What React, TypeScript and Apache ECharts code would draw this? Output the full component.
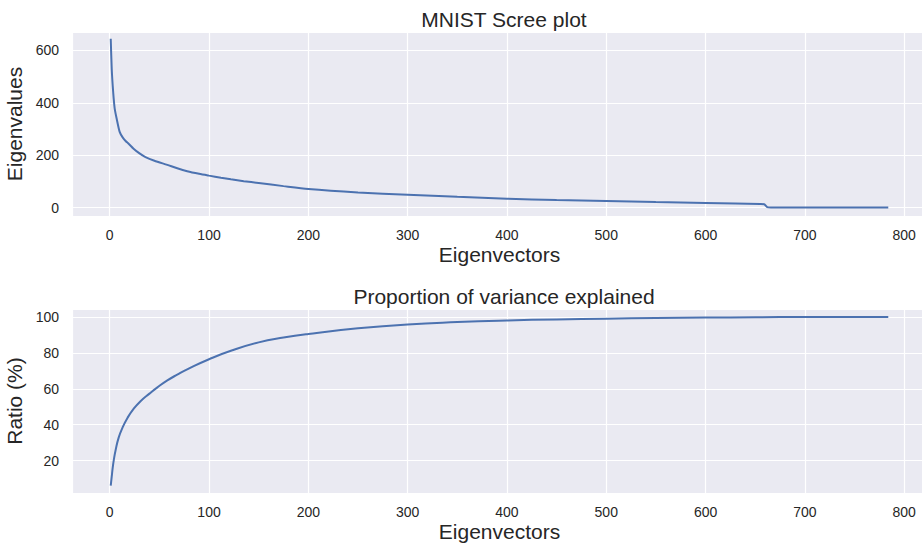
import React, { useEffect, useRef } from "react";
import * as echarts from "echarts";

// Eigenvalue (scree) curve
const eigIndex = [1, 2, 3, 4, 5, 7, 10, 13, 16, 19, 24, 30, 36, 45, 58, 68, 78, 90, 100, 112, 122, 135, 150, 175, 200, 250, 300, 350, 400, 450, 500, 550, 600, 630, 655, 659, 662, 666, 700, 750, 784];
const eigValues = [644, 530, 465, 415, 378, 339, 289, 268, 254, 244, 225, 207, 193, 179, 163, 150, 139, 129, 122, 114, 108, 101, 94, 82, 71, 58, 49, 41, 34, 29, 25, 21, 18, 16, 14, 13, 2, 0.5, 0.3, 0.2, 0.2];

// Cumulative proportion of variance explained (%)
const ratioIndex = [1, 2, 3, 4, 6, 9, 13, 18, 24, 31, 40, 48, 58, 68, 80, 100, 122, 150, 175, 200, 250, 300, 350, 400, 450, 500, 550, 600, 650, 700, 784];
const ratioValues = [6.0, 11, 16, 20, 26, 32.8, 38.5, 43.9, 48.8, 53.1, 57.3, 60.8, 64.7, 67.9, 71.4, 76.5, 81.2, 85.9, 88.6, 90.6, 93.7, 95.9, 97.2, 98.1, 98.7, 99.1, 99.45, 99.7, 99.9, 100, 100];

const titles = ["MNIST Scree plot", "Proportion of variance explained"];
const xName = "Eigenvectors";
const yNames = ["Eigenvalues", "Ratio (%)"];

const FONT = "Liberation Sans, Arial, sans-serif";
const TXT = "#262626";

export default function App() {
  const ref = useRef<HTMLDivElement>(null);
  useEffect(() => {
    if (!ref.current) return;
    const chart = echarts.init(ref.current, undefined, { renderer: "svg" });
    const eigData = eigIndex.map((x, i) => [x, eigValues[i]]);
    const ratioData = ratioIndex.map((x, i) => [x, ratioValues[i]]);

    const xAxisBase = (gi: number) => ({
      type: "value" as const,
      gridIndex: gi,
      min: -38,
      max: 823,
      minInterval: 100,
      maxInterval: 100,
      splitNumber: 9,
      name: xName,
      nameLocation: "middle" as const,
      nameGap: 28,
      nameTextStyle: { fontSize: 21, color: TXT, fontFamily: FONT },
      axisLine: { show: false },
      axisTick: { show: false },
      axisLabel: {
        showMinLabel: false,
        showMaxLabel: false,
        fontSize: 14,
        color: TXT,
        fontFamily: FONT,
        margin: 12,
      },
      splitLine: { show: true, lineStyle: { color: "#ffffff", width: 1.2 } },
    });

    const yAxisBase = (gi: number, min: number, max: number, step: number, name: string) => ({
      type: "value" as const,
      gridIndex: gi,
      min,
      max,
      minInterval: step,
      maxInterval: step,
      splitNumber: 5,
      name,
      nameLocation: "middle" as const,
      nameGap: 43,
      nameTextStyle: { fontSize: 21, color: TXT, fontFamily: FONT },
      axisLine: { show: false },
      axisTick: { show: false },
      axisLabel: {
        showMinLabel: false,
        showMaxLabel: false,
        fontSize: 14,
        color: TXT,
        fontFamily: FONT,
        margin: 13,
      },
      splitLine: { show: true, lineStyle: { color: "#ffffff", width: 1.2 } },
    });

    const gridBase = {
      left: 72,
      width: 855,
      height: 184,
      show: true,
      backgroundColor: "#EAEAF2",
      borderWidth: 0,
      containLabel: false,
      outerBoundsMode: "none",
    };

    chart.setOption({
      animation: false,
      backgroundColor: "#ffffff",
      title: [
        {
          text: titles[0],
          left: 499,
          top: 4,
          textAlign: "center",
          textStyle: { fontSize: 21, fontWeight: "normal", color: TXT, fontFamily: FONT },
        },
        {
          text: titles[1],
          left: 499,
          top: 281,
          textAlign: "center",
          textStyle: { fontSize: 21, fontWeight: "normal", color: TXT, fontFamily: FONT },
        },
      ],
      grid: [
        { ...gridBase, top: 32 },
        { ...gridBase, top: 309 },
      ],
      xAxis: [xAxisBase(0), xAxisBase(1)],
      yAxis: [
        yAxisBase(0, -32, 670, 200, yNames[0]),
        yAxisBase(1, 1.9, 104.5, 20, yNames[1]),
      ],
      series: [
        {
          type: "line",
          xAxisIndex: 0,
          yAxisIndex: 0,
          data: eigData,
          showSymbol: false,
          smooth: 0.25,
          lineStyle: { color: "#4C72B0", width: 2 },
        },
        {
          type: "line",
          xAxisIndex: 1,
          yAxisIndex: 1,
          data: ratioData,
          showSymbol: false,
          smooth: 0.5,
          lineStyle: { color: "#4C72B0", width: 2 },
        },
      ],
    });
    return () => chart.dispose();
  }, []);
  return (
    <div
      ref={ref}
      style={{ position: "fixed", left: 0, top: 0, width: 922, height: 546 }}
    />
  );
}
